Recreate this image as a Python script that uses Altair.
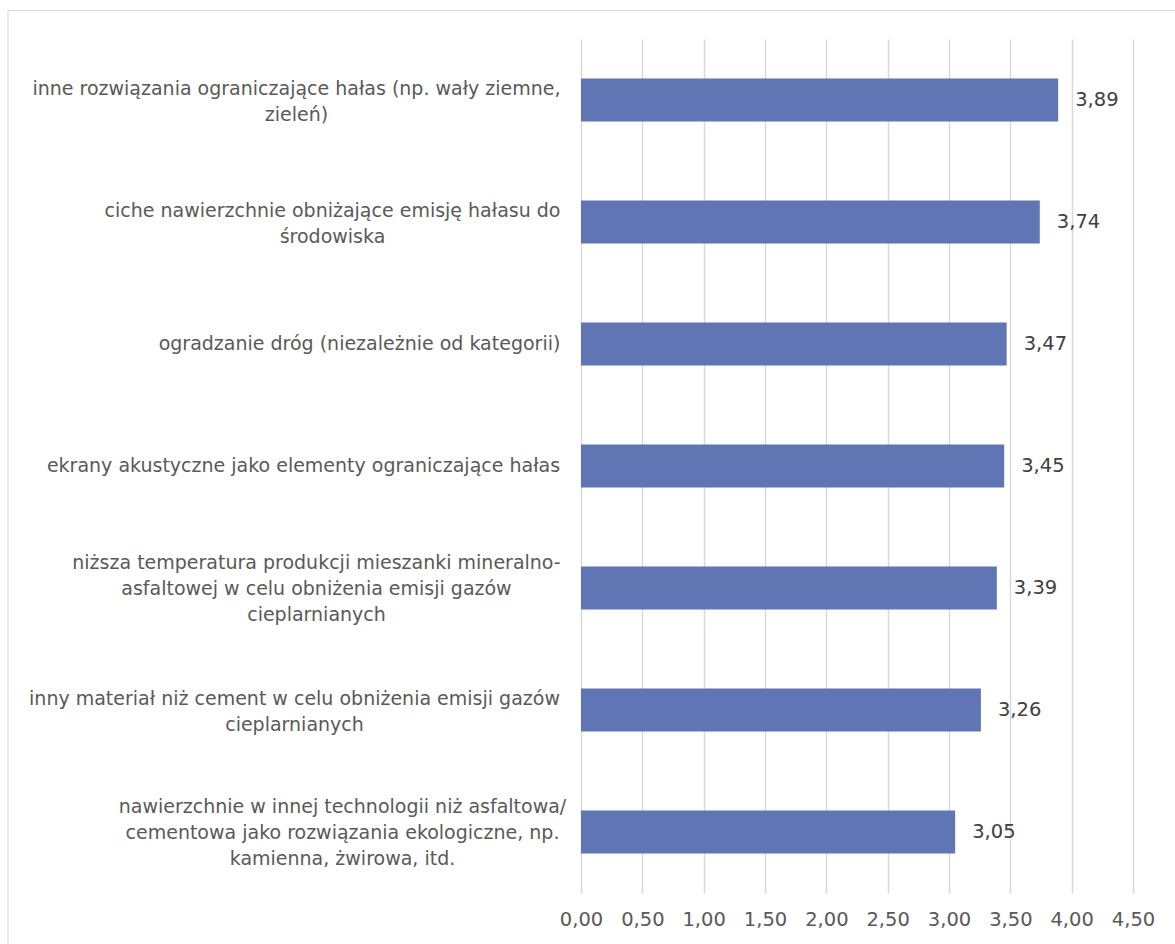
import altair as alt
import pandas as pd

# ---- data ----
categories = [
    "inne rozwiązania ograniczające hałas (np. wały ziemne,|zieleń)",
    "ciche nawierzchnie obniżające emisję hałasu do|środowiska",
    "ogradzanie dróg (niezależnie od kategorii)",
    "ekrany akustyczne jako elementy ograniczające hałas",
    "niższa temperatura produkcji mieszanki mineralno-|asfaltowej w celu obniżenia emisji gazów|cieplarnianych",
    "inny materiał niż cement w celu obniżenia emisji gazów|cieplarnianych",
    "nawierzchnie w innej technologii niż asfaltowa/|cementowa jako rozwiązania ekologiczne, np.|kamienna, żwirowa, itd.",
]
values = [3.89, 3.74, 3.47, 3.45, 3.39, 3.26, 3.05]
x_ticks = [0.0, 0.5, 1.0, 1.5, 2.0, 2.5, 3.0, 3.5, 4.0, 4.5]

# ---- layout (label block offsets, pixels) ----
label_padding = [285, 249, 222, 278, 265, 287, 239]
line_shift = {1: 0, 2: -11, 3: -25}

FONT = "DejaVu Sans"
GRID = "#d9d9d9"
BAR = "#6076b4"

df = pd.DataFrame({"cat": categories, "value": values})

pad_cond = {
    "condition": [
        {"test": f"datum.value === '{c}'", "value": p}
        for c, p in zip(categories, label_padding)
    ],
    "value": 250,
}
off_cond = {
    "condition": [
        {"test": f"datum.value === '{c}'", "value": line_shift[len(c.split('|'))]}
        for c in categories
    ],
    "value": 0,
}

y_enc = alt.Y(
    "cat:N",
    sort=categories,
    scale=alt.Scale(paddingInner=0.647, paddingOuter=0.3235),
    axis=alt.Axis(
        title=None,
        labelExpr="split(datum.label, '|')",
        labelAlign="center",
        labelBaseline="middle",
        labelPadding=pad_cond,
        labelOffset=off_cond,
        labelLineHeight=26,
        labelFont=FONT,
        labelFontSize=19,
        labelColor="#595959",
        labelLimit=0,
        ticks=False,
        domain=False,
        grid=False,
    ),
)

x_enc = alt.X(
    "value:Q",
    scale=alt.Scale(domain=[0, 4.5], nice=False, zero=True),
    axis=alt.Axis(
        title=None,
        values=x_ticks,
        labelExpr="replace(format(datum.value, '.2f'), '.', ',')",
        labelOverlap=False,
        labelFlush=False,
        grid=True,
        gridColor=GRID,
        gridWidth=1.5,
        domain=False,
        ticks=False,
        labelPadding=17,
        labelFont=FONT,
        labelFontSize=19.5,
        labelColor="#595959",
    ),
)

base = alt.Chart(df)

bars = base.mark_bar(color=BAR).encode(y=y_enc, x=x_enc)

texts = base.transform_calculate(
    lbl="replace(format(datum.value, '.2f'), '.', ',')"
).mark_text(
    align="left", baseline="middle", dx=17, font=FONT, fontSize=19.5, color="#404040"
).encode(y=alt.Y("cat:N", sort=categories), x="value:Q", text="lbl:N")

frame = alt.Chart(alt.Data(values=[{}])).mark_rect(
    fillOpacity=0, stroke=GRID, strokeWidth=1
).encode(
    x=alt.value(-573), x2=alt.value(600), y=alt.value(-28.5), y2=alt.value(920)
)

chart = alt.layer(frame, bars, texts).properties(
    width=552,
    height=854,
    padding={"left": 581, "top": 39, "right": 42, "bottom": 51},
    autosize=alt.AutoSizeParams(type="none"),
    background="white",
).configure_view(stroke=None)

chart.save("out.html", embed_options={"renderer": "svg", "actions": False})
